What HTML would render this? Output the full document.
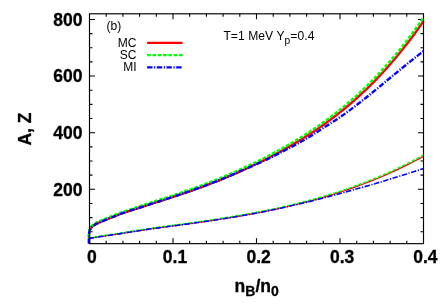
<!DOCTYPE html>
<html><head><meta charset="utf-8"><style>
html,body{margin:0;padding:0;background:#fff;}
svg{display:block;will-change:transform;}
text{font-family:"Liberation Sans",sans-serif;fill:#000;}
.b{font-weight:bold;font-size:17.5px;stroke:#000;stroke-width:0.3px;}
.r{font-size:12px;}
</style></head><body>
<svg width="442" height="308" viewBox="0 0 442 308">
<rect width="442" height="308" fill="#fff"/>
<g stroke="#000" stroke-width="1.1" fill="none">
<path d="M89.5,189.30h5.5M423.5,189.30h-5.5"/><path d="M89.5,132.68h5.5M423.5,132.68h-5.5"/><path d="M89.5,76.07h5.5M423.5,76.07h-5.5"/><path d="M89.5,19.45h5.5M423.5,19.45h-5.5"/><path d="M89.5,231.76h3.0M423.5,231.76h-3.0"/><path d="M89.5,217.61h3.0M423.5,217.61h-3.0"/><path d="M89.5,203.45h3.0M423.5,203.45h-3.0"/><path d="M89.5,175.15h3.0M423.5,175.15h-3.0"/><path d="M89.5,160.99h3.0M423.5,160.99h-3.0"/><path d="M89.5,146.84h3.0M423.5,146.84h-3.0"/><path d="M89.5,118.53h3.0M423.5,118.53h-3.0"/><path d="M89.5,104.38h3.0M423.5,104.38h-3.0"/><path d="M89.5,90.22h3.0M423.5,90.22h-3.0"/><path d="M89.5,61.91h3.0M423.5,61.91h-3.0"/><path d="M89.5,47.76h3.0M423.5,47.76h-3.0"/><path d="M89.5,33.60h3.0M423.5,33.60h-3.0"/><path d="M106.20,243.65v-3.0M106.20,13.8v3.0"/><path d="M122.90,243.65v-3.0M122.90,13.8v3.0"/><path d="M139.60,243.65v-3.0M139.60,13.8v3.0"/><path d="M156.30,243.65v-3.0M156.30,13.8v3.0"/><path d="M173.00,243.65v-5.5M173.00,13.8v5.5"/><path d="M189.70,243.65v-3.0M189.70,13.8v3.0"/><path d="M206.40,243.65v-3.0M206.40,13.8v3.0"/><path d="M223.10,243.65v-3.0M223.10,13.8v3.0"/><path d="M239.80,243.65v-3.0M239.80,13.8v3.0"/><path d="M256.50,243.65v-5.5M256.50,13.8v5.5"/><path d="M273.20,243.65v-3.0M273.20,13.8v3.0"/><path d="M289.90,243.65v-3.0M289.90,13.8v3.0"/><path d="M306.60,243.65v-3.0M306.60,13.8v3.0"/><path d="M323.30,243.65v-3.0M323.30,13.8v3.0"/><path d="M340.00,243.65v-5.5M340.00,13.8v5.5"/><path d="M356.70,243.65v-3.0M356.70,13.8v3.0"/><path d="M373.40,243.65v-3.0M373.40,13.8v3.0"/><path d="M390.10,243.65v-3.0M390.10,13.8v3.0"/><path d="M406.80,243.65v-3.0M406.80,13.8v3.0"/>
</g>
<g fill="none" stroke-linejoin="round">
<path d="M89.00,243.60 L89.00,236.00 L89.20,232.50 L89.80,230.20 L90.60,228.60 L91.60,227.20 L92.80,226.00 L94.50,224.90 L96.50,223.73 L99.50,222.45 L102.50,221.18 L105.50,219.93 L108.50,218.70 L111.50,217.49 L114.51,216.29 L117.51,215.11 L120.51,213.96 L123.51,212.94 L126.51,211.94 L129.51,210.94 L132.51,209.95 L135.51,208.97 L138.51,208.00 L141.51,207.03 L144.51,206.06 L147.52,205.10 L150.52,204.14 L153.52,203.18 L156.52,202.22 L159.52,201.26 L162.52,200.29 L165.52,199.33 L168.52,198.35 L171.52,197.37 L174.52,196.39 L177.52,195.39 L180.53,194.39 L183.53,193.37 L186.53,192.35 L189.53,191.31 L192.53,190.26 L195.53,189.19 L198.53,188.11 L201.53,187.02 L204.53,185.90 L207.53,184.78 L210.53,183.63 L213.54,182.47 L216.54,181.30 L219.54,180.10 L222.54,178.89 L225.54,177.66 L228.54,176.41 L231.54,175.14 L234.54,173.86 L237.54,172.55 L240.54,171.22 L243.54,169.87 L246.55,168.51 L249.55,167.11 L252.55,165.70 L255.55,164.27 L258.55,162.81 L261.55,161.33 L264.55,159.83 L267.55,158.30 L270.55,156.75 L273.55,155.17 L276.56,153.57 L279.56,151.94 L282.56,150.29 L285.56,148.61 L288.56,146.91 L291.56,145.17 L294.56,143.41 L297.56,141.62 L300.56,139.80 L303.56,137.95 L306.56,136.06 L309.57,134.14 L312.57,132.18 L315.57,130.18 L318.57,128.14 L321.57,126.06 L324.57,123.94 L327.57,121.78 L330.57,119.57 L333.57,117.31 L336.57,115.01 L339.57,112.65 L342.58,110.25 L345.58,107.79 L348.58,105.28 L351.58,102.72 L354.58,100.10 L357.58,97.42 L360.58,94.68 L363.58,91.89 L366.58,89.03 L369.58,86.10 L372.58,83.11 L375.59,80.06 L378.59,76.94 L381.59,73.75 L384.59,70.49 L387.59,67.15 L390.59,63.75 L393.59,60.27 L396.59,56.71 L399.59,53.08 L402.59,49.36 L405.59,45.57 L408.60,41.70 L411.60,37.74 L414.60,33.70 L417.60,29.57 L420.60,25.36 L423.60,21.05" stroke="#f00" stroke-width="2.4"/>
<path d="M89.00,242.57 L89.00,234.88 L89.20,231.34 L89.80,229.01 L90.60,227.39 L91.60,225.98 L92.80,224.76 L94.50,223.65 L96.50,222.47 L99.50,221.16 L102.50,219.88 L105.50,218.62 L108.50,217.38 L111.50,216.15 L114.51,214.94 L117.51,213.74 L120.51,212.58 L123.51,211.55 L126.51,210.53 L129.51,209.52 L132.51,208.52 L135.51,207.53 L138.51,206.54 L141.51,205.56 L144.51,204.59 L147.52,203.61 L150.52,202.64 L153.52,201.67 L156.52,200.70 L159.52,199.72 L162.52,198.75 L165.52,197.77 L168.52,196.78 L171.52,195.79 L174.52,194.79 L177.52,193.79 L180.53,192.77 L183.53,191.74 L186.53,190.71 L189.53,189.66 L192.53,188.59 L195.53,187.51 L198.53,186.42 L201.53,185.31 L204.53,184.18 L207.53,183.04 L210.53,181.89 L213.54,180.71 L216.54,179.52 L219.54,178.31 L222.54,177.09 L225.54,175.84 L228.54,174.58 L231.54,173.29 L234.54,171.99 L237.54,170.67 L240.54,169.33 L243.54,167.96 L246.55,166.58 L249.55,165.17 L252.55,163.74 L255.55,162.29 L258.55,160.81 L261.55,159.32 L264.55,157.79 L267.55,156.25 L270.55,154.68 L273.55,153.08 L276.56,151.46 L279.56,149.82 L282.56,148.14 L285.56,146.44 L288.56,144.72 L291.56,142.97 L294.56,141.18 L297.56,139.37 L300.56,137.53 L303.56,135.65 L306.56,133.74 L309.57,131.79 L312.57,129.81 L315.57,127.79 L318.57,125.73 L321.57,123.62 L324.57,121.48 L327.57,119.29 L330.57,117.05 L333.57,114.77 L336.57,112.44 L339.57,110.06 L342.58,107.62 L345.58,105.14 L348.58,102.60 L351.58,100.00 L354.58,97.35 L357.58,94.64 L360.58,91.87 L363.58,89.04 L366.58,86.14 L369.58,83.18 L372.58,80.16 L375.59,77.07 L378.59,73.91 L381.59,70.68 L384.59,67.38 L387.59,64.01 L390.59,60.56 L393.59,57.04 L396.59,53.44 L399.59,49.76 L402.59,46.00 L405.59,42.17 L408.60,38.25 L411.60,34.24 L414.60,30.15 L417.60,25.97 L420.60,21.71 L423.60,17.35" stroke="#0f0" stroke-width="2.4" stroke-dasharray="3.6 1.7"/>
<path d="M89.00,243.60 L89.00,236.00 L89.20,232.50 L89.80,230.20 L90.60,228.60 L91.60,227.20 L92.80,226.00 L94.50,224.90 L96.50,223.73 L99.50,222.45 L102.50,221.18 L105.50,219.93 L108.50,218.70 L111.50,217.49 L114.51,216.29 L117.51,215.11 L120.51,213.96 L123.51,212.94 L126.51,211.94 L129.51,210.94 L132.51,209.95 L135.51,208.97 L138.51,208.00 L141.51,207.03 L144.51,206.06 L147.52,205.10 L150.52,204.14 L153.52,203.18 L156.52,202.22 L159.52,201.26 L162.52,200.29 L165.52,199.33 L168.52,198.35 L171.52,197.37 L174.52,196.39 L177.52,195.39 L180.53,194.39 L183.53,193.37 L186.53,192.35 L189.53,191.31 L192.53,190.26 L195.53,189.19 L198.53,188.11 L201.53,187.02 L204.53,185.90 L207.53,184.78 L210.53,183.63 L213.54,182.47 L216.54,181.30 L219.54,180.10 L222.54,178.89 L225.54,177.66 L228.54,176.41 L231.54,175.14 L234.54,173.86 L237.54,172.55 L240.54,171.22 L243.54,169.87 L246.55,168.55 L249.55,167.25 L252.55,165.93 L255.55,164.59 L258.55,163.23 L261.55,161.88 L264.55,160.50 L267.55,159.10 L270.55,157.66 L273.55,156.18 L276.56,154.66 L279.56,153.12 L282.56,151.57 L285.56,150.04 L288.56,148.48 L291.56,146.90 L294.56,145.29 L297.56,143.65 L300.56,141.98 L303.56,140.28 L306.56,138.54 L309.57,136.73 L312.57,134.89 L315.57,133.01 L318.57,131.07 L321.57,129.08 L324.57,127.15 L327.57,125.23 L330.57,123.31 L333.57,121.39 L336.57,119.45 L339.57,117.46 L342.58,115.38 L345.58,113.25 L348.58,111.07 L351.58,108.85 L354.58,106.59 L357.58,104.29 L360.58,101.96 L363.58,99.60 L366.58,97.22 L369.58,94.80 L372.58,92.37 L375.59,89.93 L378.59,87.47 L381.59,84.99 L384.59,82.51 L387.59,80.03 L390.59,77.54 L393.59,75.06 L396.59,72.58 L399.59,70.11 L402.59,67.66 L405.59,65.21 L408.60,62.79 L411.60,60.39 L414.60,58.01 L417.60,55.66 L420.60,53.34 L423.60,51.06" stroke="#00f" stroke-width="2.4" stroke-dasharray="5.4 1.6 1.2 1.5"/>
<path d="M88.60,238.90 L90.00,238.55 L91.20,238.10 L95.41,237.43 L99.62,236.77 L103.82,236.12 L108.03,235.49 L112.24,234.87 L116.45,234.25 L120.65,233.64 L124.86,232.96 L129.07,232.28 L133.28,231.62 L137.48,230.96 L141.69,230.30 L145.90,229.65 L150.11,229.00 L154.31,228.44 L158.52,227.88 L162.73,227.32 L166.94,226.76 L171.14,226.20 L175.35,225.63 L179.56,225.07 L183.77,224.49 L187.97,223.92 L192.18,223.34 L196.39,222.75 L200.60,222.15 L204.81,221.54 L209.01,220.93 L213.22,220.30 L217.43,219.67 L221.64,219.02 L225.84,218.36 L230.05,217.68 L234.26,216.99 L238.47,216.29 L242.67,215.57 L246.88,214.83 L251.09,214.07 L255.30,213.29 L259.50,212.50 L263.71,211.68 L267.92,210.84 L272.13,209.98 L276.33,209.09 L280.54,208.18 L284.75,207.25 L288.96,206.28 L293.16,205.29 L297.37,204.28 L301.58,203.23 L305.79,202.16 L309.99,201.05 L314.20,199.91 L318.41,198.74 L322.62,197.54 L326.83,196.30 L331.03,195.03 L335.24,193.72 L339.45,192.37 L343.66,190.99 L347.86,189.56 L352.07,188.10 L356.28,186.60 L360.49,185.06 L364.69,183.47 L368.90,181.84 L373.11,180.17 L377.32,178.45 L381.52,176.69 L385.73,174.88 L389.94,173.02 L394.15,171.11 L398.35,169.16 L402.56,167.15 L406.77,165.09 L410.98,162.98 L415.18,160.82 L419.39,158.61 L423.60,156.34" stroke="#f00" stroke-width="1.2"/>
<path d="M88.60,238.29 L90.00,237.93 L91.20,237.48 L95.41,236.80 L99.62,236.14 L103.82,235.49 L108.03,234.85 L112.24,234.22 L116.45,233.60 L120.65,232.97 L124.86,232.29 L129.07,231.61 L133.28,230.94 L137.48,230.27 L141.69,229.61 L145.90,228.95 L150.11,228.30 L154.31,227.74 L158.52,227.17 L162.73,226.60 L166.94,226.04 L171.14,225.47 L175.35,224.90 L179.56,224.33 L183.77,223.75 L187.97,223.17 L192.18,222.58 L196.39,221.99 L200.60,221.39 L204.81,220.77 L209.01,220.15 L213.22,219.52 L217.43,218.88 L221.64,218.23 L225.84,217.56 L230.05,216.88 L234.26,216.18 L238.47,215.47 L242.67,214.74 L246.88,214.00 L251.09,213.23 L255.30,212.45 L259.50,211.64 L263.71,210.82 L267.92,209.97 L272.13,209.10 L276.33,208.21 L280.54,207.29 L284.75,206.35 L288.96,205.38 L293.16,204.38 L297.37,203.35 L301.58,202.30 L305.79,201.21 L309.99,200.10 L314.20,198.95 L318.41,197.77 L322.62,196.55 L326.83,195.30 L331.03,194.02 L335.24,192.70 L339.45,191.34 L343.66,189.94 L347.86,188.51 L352.07,187.03 L356.28,185.52 L360.49,183.96 L364.69,182.36 L368.90,180.71 L373.11,179.03 L377.32,177.29 L381.52,175.51 L385.73,173.69 L389.94,171.81 L394.15,169.89 L398.35,167.91 L402.56,165.89 L406.77,163.82 L410.98,161.69 L415.18,159.51 L419.39,157.27 L423.60,154.98" stroke="#0f0" stroke-width="1.4" stroke-dasharray="3.6 1.7"/>
<path d="M88.60,238.90 L90.00,238.55 L91.20,238.10 L95.41,237.43 L99.62,236.77 L103.82,236.12 L108.03,235.49 L112.24,234.87 L116.45,234.25 L120.65,233.64 L124.86,232.96 L129.07,232.28 L133.28,231.62 L137.48,230.96 L141.69,230.30 L145.90,229.65 L150.11,229.00 L154.31,228.44 L158.52,227.88 L162.73,227.32 L166.94,226.76 L171.14,226.20 L175.35,225.63 L179.56,225.07 L183.77,224.49 L187.97,223.92 L192.18,223.34 L196.39,222.75 L200.60,222.15 L204.81,221.54 L209.01,220.93 L213.22,220.30 L217.43,219.67 L221.64,219.02 L225.84,218.36 L230.05,217.68 L234.26,216.99 L238.47,216.29 L242.67,215.57 L246.88,214.83 L251.09,214.07 L255.30,213.29 L259.50,212.50 L263.71,211.68 L267.92,210.84 L272.13,209.98 L276.33,209.09 L280.54,208.18 L284.75,207.25 L288.96,206.28 L293.16,205.33 L297.37,204.37 L301.58,203.38 L305.79,202.38 L309.99,201.38 L314.20,200.32 L318.41,199.24 L322.62,198.15 L326.83,197.05 L331.03,195.93 L335.24,194.81 L339.45,193.67 L343.66,192.53 L347.86,191.37 L352.07,190.20 L356.28,189.02 L360.49,187.82 L364.69,186.62 L368.90,185.40 L373.11,184.17 L377.32,182.93 L381.52,181.68 L385.73,180.41 L389.94,179.13 L394.15,177.84 L398.35,176.54 L402.56,175.22 L406.77,173.89 L410.98,172.55 L415.18,171.20 L419.39,169.83 L423.60,168.45" stroke="#00f" stroke-width="1.6" stroke-dasharray="5.4 1.6 1.2 1.5"/>
</g>
<rect x="89.5" y="13.8" width="334.00" height="229.85" fill="none" stroke="#000" stroke-width="1.15"/>
<g class="b" text-anchor="end">
<text x="82.5" y="25.7">800</text>
<text x="82.5" y="82.3">600</text>
<text x="82.5" y="138.9">400</text>
<text x="82.5" y="195.5">200</text>
</g>
<g class="b" text-anchor="middle">
<text x="91.9" y="263">0</text>
<text x="175" y="263">0.1</text>
<text x="258.6" y="263">0.2</text>
<text x="342.1" y="263">0.3</text>
<text x="425.4" y="263">0.4</text>
</g>
<text class="b" text-anchor="middle" transform="translate(30.5,129) rotate(-90)">A, Z</text>
<text class="b" x="234.6" y="291.6">n<tspan font-size="14" dy="4.8">B</tspan><tspan dy="-4.8">/n</tspan><tspan font-size="14" dy="4.8">0</tspan></text>
<text class="r" x="106.5" y="29.7">(b)</text>
<g class="r" text-anchor="end">
<text x="136.5" y="46.8">MC</text>
<text x="136.5" y="59">SC</text>
<text x="136.5" y="71">MI</text>
</g>
<g fill="none" stroke-width="2.3">
<path d="M147.1,42.9H182.5" stroke="#f00"/>
<path d="M147.1,55.1H182.5" stroke="#0f0" stroke-dasharray="3.6 1.7"/>
<path d="M147.1,67.3H182.5" stroke="#00f" stroke-dasharray="5.4 1.6 1.2 1.5"/>
</g>
<text class="r" x="223.4" y="39.7" style="font-size:12.1px;letter-spacing:0.065px">T=1 MeV Y<tspan font-size="10.2" dy="4.1">p</tspan><tspan dy="-4.1">=0.4</tspan></text>
</svg>
</body></html>
